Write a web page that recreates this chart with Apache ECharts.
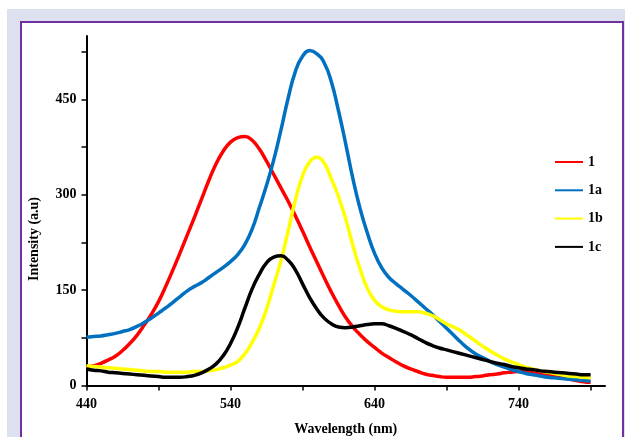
<!DOCTYPE html>
<html>
<head>
<meta charset="utf-8">
<script src="https://cdn.jsdelivr.net/npm/echarts@6/dist/echarts.min.js"></script>
<style>
  html, body { margin: 0; padding: 0; background: #ffffff; }
  #page { position: relative; width: 625px; height: 437px; overflow: hidden; background: #ffffff; }
  #band { position: absolute; left: 7px; top: 9px; right: 0; bottom: 0; background: #dde0ee; }
  #frame { position: absolute; left: 20px; top: 21px; width: 600px; height: 430px; border: 2px solid #7030a0; background: #ffffff; }
  #chart { position: absolute; left: 0; top: 0; width: 625px; height: 437px; }
</style>
</head>
<body>
<div id="page">
  <div id="band"></div>
  <div id="frame"></div>
  <div id="chart"></div>
</div>
<script>
// Emission spectra, sampled every 5 nm from 440 to 790 nm
const wavelengths = [
  440, 445, 450, 455, 460, 465, 470, 475, 480, 485, 490, 495, 500, 505, 510, 515, 520, 525,
  530, 535, 540, 545, 550, 555, 560, 565, 570, 575, 580, 585, 590, 595, 600, 605, 610, 615,
  620, 625, 630, 635, 640, 645, 650, 655, 660, 665, 670, 675, 680, 685, 690, 695, 700, 705,
  710, 715, 720, 725, 730, 735, 740, 745, 750, 755, 760, 765, 770, 775, 780, 785, 790];

const series1 = [
  29, 31, 35, 40, 46, 55, 66, 79, 95, 112, 132, 156, 182, 209, 237, 265, 294, 323,
  349, 369, 383, 390, 392, 386, 372, 353, 332, 311, 290, 267, 243, 218, 194, 170, 147, 126,
  107, 92, 80, 69, 60, 51, 44, 37, 31, 26, 22, 18, 16, 14, 13, 13, 13, 13,
  14, 15, 17, 18, 20, 21, 22, 22, 21, 19, 17, 14, 12, 10, 8, 6, 5];

const series1a = [
  76, 77, 78, 80, 82, 85, 88, 93, 99, 106, 114, 122, 131, 140, 149, 156, 162, 170,
  178, 186, 195, 206, 222, 246, 280, 315, 355, 402, 452, 494, 518, 527, 522, 508, 478, 432,
  380, 325, 278, 240, 208, 185, 170, 160, 151, 142, 132, 122, 112, 101, 90, 79, 68, 58,
  50, 44, 38, 33, 29, 25, 22, 19, 17, 15, 13, 12, 11, 10, 9, 8, 7];

const series1b = [
  31, 30, 29, 28, 27, 26, 25, 24, 23, 22, 22, 21, 21, 21, 21, 22, 22, 23,
  25, 28, 32, 38, 50, 68, 90, 120, 158, 196, 243, 292, 330, 352, 359, 350, 325, 297,
  262, 220, 183, 153, 134, 124, 119, 117, 116, 116, 116, 114, 110, 104, 97, 92, 86, 78,
  70, 62, 55, 48, 42, 37, 33, 29, 26, 23, 21, 19, 17, 15, 14, 13, 12];

const series1c = [
  26, 24, 23, 21, 20, 19, 18, 17, 16, 15, 14, 13, 13, 13, 14, 16, 20, 26,
  34, 47, 66, 91, 122, 152, 175, 193, 202, 204, 197, 182, 160, 138, 120, 106, 97, 92,
  91, 92, 94, 96, 97, 97, 94, 90, 85, 80, 74, 68, 63, 59, 56, 53, 50, 47,
  44, 41, 38, 35, 33, 30, 28, 26, 25, 23, 22, 21, 20, 19, 18, 17, 17];

const seriesNames = ['1', '1a', '1b', '1c'];
const seriesColors = ['#ff0000', '#0070c0', '#ffff00', '#000000'];

const xTicks = [440, 490, 540, 590, 640, 690, 740, 790];
const xLabels = [440, 540, 640, 740];
const yTicks = [0, 75, 150, 225, 300, 375, 450, 525];
const yLabels = [0, 150, 300, 450];

const serif = '"Liberation Serif", "DejaVu Serif", serif';

function pairs(values) {
  return wavelengths.map((w, i) => [w, values[i]]);
}

const chart = echarts.init(document.getElementById('chart'), null, { renderer: 'canvas' });

chart.setOption({
  backgroundColor: 'transparent',
  animation: false,
  grid: { left: 86.5, right: 20, top: 36, bottom: 51.5, containLabel: false, outerBoundsMode: 'none' },
  legend: {
    orient: 'vertical',
    left: 549,
    top: 150,
    itemWidth: 28,
    itemHeight: 14,
    itemGap: 14.3,
    data: seriesNames,
    itemStyle: { opacity: 0 },
    textStyle: { fontFamily: serif, fontWeight: 'bold', fontSize: 14, color: '#000' }
  },
  xAxis: {
    type: 'value',
    min: 440,
    max: 800,
    name: 'Wavelength (nm)',
    nameLocation: 'middle',
    nameGap: 37,
    nameTextStyle: { fontFamily: serif, fontWeight: 'bold', fontSize: 14, color: '#000' },
    axisLine: { show: true, onZero: false, lineStyle: { color: '#000', width: 2 } },
    axisTick: { show: true, customValues: xTicks, length: 5, lineStyle: { color: '#000', width: 1.5 } },
    axisLabel: { customValues: xLabels, margin: 12, fontFamily: serif, fontWeight: 'bold', fontSize: 14, color: '#000' },
    splitLine: { show: false }
  },
  yAxis: {
    type: 'value',
    min: 0,
    max: 550,
    axisLine: { show: true, onZero: false, lineStyle: { color: '#000', width: 2 } },
    axisTick: { show: true, customValues: yTicks, length: 5, lineStyle: { color: '#000', width: 1.5 } },
    axisLabel: { customValues: yLabels, margin: 10, fontFamily: serif, fontWeight: 'bold', fontSize: 14, color: '#000' },
    splitLine: { show: false }
  },
  graphic: [{
    type: 'text',
    x: 34,
    y: 239,
    rotation: Math.PI / 2,
    style: {
      text: 'Intensity (a.u)',
      fontFamily: serif,
      fontWeight: 'bold',
      fontSize: 14,
      fill: '#000',
      align: 'center',
      verticalAlign: 'middle'
    }
  }],
  series: [series1, series1a, series1b, series1c].map((vals, i) => ({
    name: seriesNames[i],
    type: 'line',
    data: pairs(vals),
    smooth: 0.5,
    symbol: 'none',
    color: seriesColors[i],
    lineStyle: { color: seriesColors[i], width: 3.5 }
  }))
});
</script>
</body>
</html>
